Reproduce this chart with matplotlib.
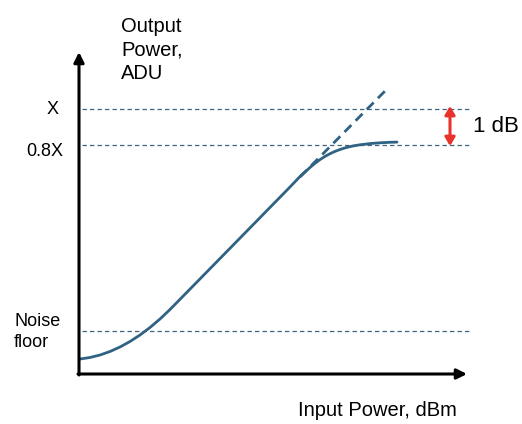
import matplotlib.pyplot as plt
import numpy as np

plt.rcParams['font.family'] = ['Liberation Sans', 'DejaVu Sans']

# response curve (arbitrary units, origin at the axes corner)
curve_x = [1, 11, 21, 31, 41, 51, 61, 71, 81, 91, 151, 211,
           221, 226, 231, 236, 241, 246, 251, 256, 261, 266, 271, 276,
           281, 291, 301, 311, 318]
curve_y = [15, 16.5, 19, 22.5, 27, 32.5, 39, 46.5, 55, 64.5, 125.7, 187,
           197.5, 202, 206.5, 210.7, 214.4, 217.6, 220.3, 222.6, 224.5,
           226.1, 227.4, 228.4, 229.2, 230.4, 231.2, 231.7, 231.9]

# linear extrapolation (dashed)
ext_x = [221, 309]
ext_y = [197, 286]

# reference levels
levels = [265, 229, 43]
level_labels = ["X", "0.8X", "Noise\nfloor"]

curve_color = "#2f6283"
line_color = "#3d6580"

fig = plt.figure(figsize=(5.22, 4.24), dpi=100)
ax = fig.add_axes([0, 0, 1, 1])
ax.set_xlim(-79, 443)
ax.set_ylim(-50, 374)
ax.axis("off")

# axes with arrows
ax.annotate("", xy=(388, 0), xytext=(-1, 0),
            arrowprops=dict(arrowstyle="-|>,head_length=0.6,head_width=0.3",
                            lw=2.2, color="black", shrinkA=0, shrinkB=0))
ax.annotate("", xy=(0, 322), xytext=(0, -1),
            arrowprops=dict(arrowstyle="-|>,head_length=0.6,head_width=0.3",
                            lw=2.2, color="black", shrinkA=0, shrinkB=0))

# dashed reference lines
for lv in levels:
    ax.plot([3, 391], [lv, lv], ls=(0, (3.5, 2.5)), lw=0.9, color=line_color)

ax.plot(curve_x, curve_y, color=curve_color, lw=2.0, solid_capstyle="round",
        solid_joinstyle="round")
ax.plot(ext_x, ext_y, color=curve_color, lw=2.0, ls=(0, (3.5, 2.2)))

# tick-like labels
ax.text(-20, levels[0], level_labels[0], ha="right", va="center", fontsize=13)
ax.text(-16, levels[1] - 6, level_labels[1], ha="right", va="center", fontsize=13)
ax.text(-65, levels[2] - 1, level_labels[2], ha="left", va="center",
        fontsize=13, linespacing=1.3)

# 1 dB marker
ax.annotate("", xy=(371, levels[0] + 3), xytext=(371, levels[1] - 1),
            arrowprops=dict(arrowstyle="<|-|>,head_length=0.5,head_width=0.3",
                            lw=2.2, color="#e8322b", shrinkA=0, shrinkB=0))
ax.text(394, (levels[0] + levels[1]) / 2, "1 dB", ha="left", va="center",
        fontsize=16)

# axis titles
ax.text(42, 357, "Output\nPower,\nADU", ha="left", va="top", fontsize=14.5,
        linespacing=1.3)
ax.text(219, -36, "Input Power, dBm", ha="left", va="center", fontsize=14.5)

fig.savefig("out.png", dpi=100)
